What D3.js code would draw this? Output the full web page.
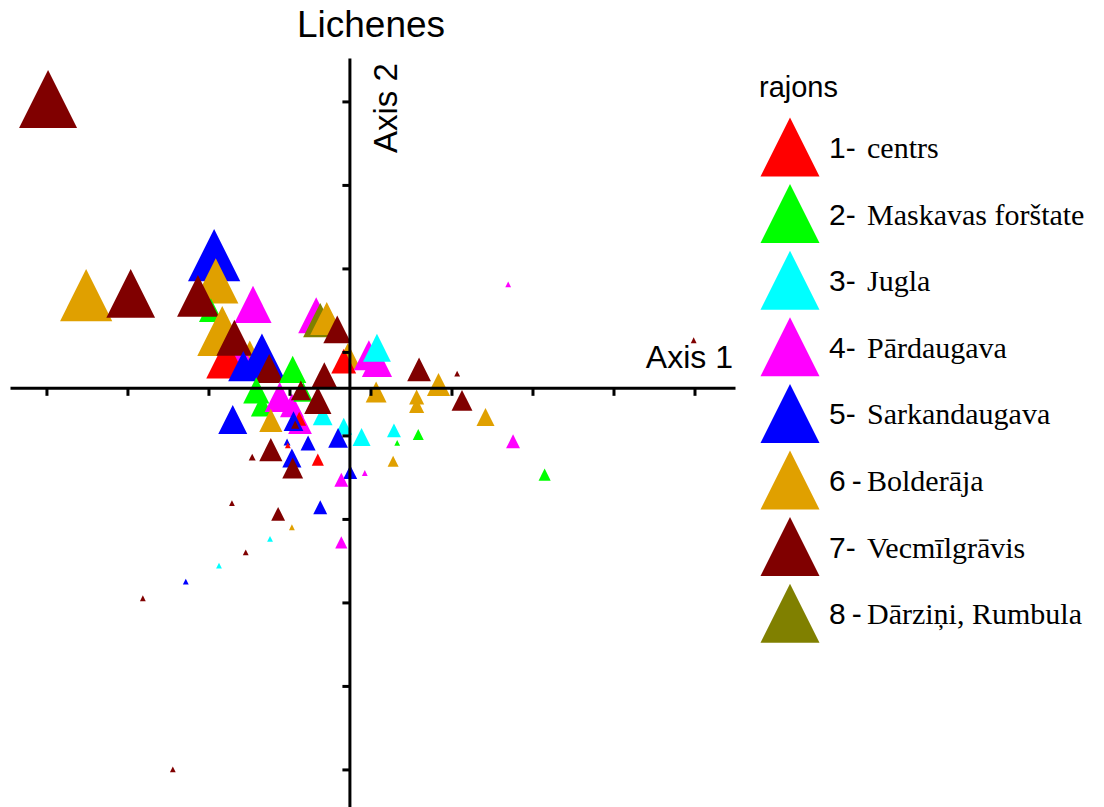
<!DOCTYPE html>
<html>
<head>
<meta charset="utf-8">
<script src="https://cdn.jsdelivr.net/npm/d3@7"></script>
<style>
    body { margin: 0; background: #fff; }
    svg { display: block; }
</style>
</head>
<body>
<div id="chart"></div>
<script>
// legend groups (rajons)
var groupNums = ["1-", "2-", "3-", "4-", "5-", "6\u2009-", "7-", "8\u2009-"];
var groupNames = ["centrs", "Maskavas forštate", "Jugla", "Pārdaugava", "Sarkandaugava",
    "Bolderāja", "Vecmīlgrāvis", "Dārziņi, Rumbula"];
var groupColors = ["#ff0000", "#00ff00", "#00ffff", "#ff00ff", "#0000ff", "#e0a000", "#800000", "#808000"];

var xTicks = [-3.74, -2.74, -1.74, -0.74, 0.26, 1.26, 2.26, 3.26, 4.26];
var yTicks = [3.43, 2.43, 1.43, 0.43, -0.57, -1.57, -2.57, -3.57, -4.57];

// [group, axis1, axis2, size]  (drawing order = back to front)
var samples = [
    [7, -3.72, 3.46, 100], [6, -3.25, 1.11, 90], [7, -2.70, 1.13, 84], [5, -1.67, 1.59, 90],
    [6, -1.65, 1.28, 78], [2, -1.71, 0.93, 41], [7, -1.87, 1.10, 72], [6, -1.57, 0.68, 86],
    [4, -1.19, 1.00, 64], [6, -1.23, 0.45, 34], [4, -1.35, 0.39, 52], [1, -1.52, 0.35, 69],
    [7, -1.42, 0.60, 62], [5, -1.31, 0.26, 52], [5, -1.08, 0.38, 78], [7, -0.99, 0.23, 50],
    [2, -0.70, 0.22, 47], [4, -0.41, 0.87, 62], [8, -0.36, 0.81, 59], [6, -0.28, 0.83, 57],
    [7, -0.15, 0.70, 48], [6, -0.02, 0.38, 45], [1, -0.07, 0.32, 43], [7, -0.31, 0.15, 45],
    [4, 0.24, 0.39, 52], [4, 0.34, 0.31, 52], [3, 0.34, 0.48, 48], [7, 0.86, 0.22, 41],
    [7, 1.33, 0.17, 10], [6, 1.10, 0.04, 40], [7, 1.39, -0.15, 36], [6, 1.68, -0.35, 31],
    [4, 2.02, -0.64, 24], [2, 2.41, -1.04, 21], [4, 1.96, 1.24, 10], [7, 4.25, 0.57, 10],
    [6, 0.33, -0.05, 36], [6, 0.83, -0.11, 26], [6, 0.83, -0.21, 26], [3, 0.55, -0.51, 24],
    [2, 0.85, -0.56, 19], [2, 0.59, -0.66, 10], [3, 0.15, -0.59, 31], [6, 0.54, -0.88, 19],
    [5, 0.01, -1.01, 24], [4, 0.19, -1.02, 10], [4, -0.10, -1.10, 24], [3, -0.07, -0.46, 29],
    [5, -0.14, -0.60, 34], [3, -0.33, -0.33, 34], [2, -1.15, -0.03, 45], [2, -1.08, -0.21, 38],
    [4, -0.86, -0.11, 52], [4, -0.71, -0.21, 41], [6, -0.97, -0.39, 40], [5, -1.44, -0.38, 50],
    [2, -0.57, -0.05, 34], [7, -0.60, -0.03, 34], [7, -0.39, -0.15, 47], [4, -0.61, -0.41, 41],
    [1, -0.62, -0.37, 24], [5, -0.69, -0.40, 34], [7, -0.67, -0.44, 14], [5, -0.51, -0.66, 26],
    [5, -0.77, -0.65, 12], [1, -0.76, -0.69, 10], [7, -0.97, -0.74, 40], [7, -1.20, -0.83, 12],
    [5, -0.71, -0.84, 33], [7, -0.70, -0.96, 36], [1, -0.39, -0.86, 21], [7, -1.45, -1.38, 10],
    [7, -0.88, -1.51, 24], [5, -0.36, -1.43, 24], [6, -0.71, -1.67, 10], [4, -0.10, -1.85, 21],
    [3, -0.98, -1.81, 10], [7, -1.28, -1.97, 10], [3, -1.61, -2.13, 10], [5, -2.02, -2.32, 10],
    [7, -2.55, -2.52, 10], [7, -2.18, -4.57, 10]
];

var width = 1104, height = 807;

var svg = d3.select("#chart").append("svg")
    .attr("width", width)
    .attr("height", height)
    .style("font-family", "Arial, 'Liberation Sans', sans-serif");

svg.append("rect").attr("width", width).attr("height", height).attr("fill", "#fff");

var x = d3.scaleLinear().domain([-4.19, 4.76]).range([10, 735]);
var y = d3.scaleLinear().domain([-5.02, 3.95]).range([807, 58]);
var size = d3.scaleLinear().domain([0, 100]).range([0, 58]);

function tri(cx, cy, w) {
    var h = w;
    return "M" + cx + "," + (cy - h / 2) + "L" + (cx + w / 2) + "," + (cy + h / 2) +
        "L" + (cx - w / 2) + "," + (cy + h / 2) + "Z";
}

// points
svg.append("g").selectAll("path")
    .data(samples)
    .enter().append("path")
    .attr("d", function (d) { return tri(x(d[1]), y(d[2]), size(d[3])); })
    .attr("fill", function (d) { return groupColors[d[0] - 1]; });

// axes through origin
var xAxis = svg.append("g")
    .attr("transform", "translate(0," + y(0) + ")")
    .call(d3.axisBottom(x).tickValues(xTicks).tickSize(8).tickSizeOuter(0).tickFormat(""));
var yAxis = svg.append("g")
    .attr("transform", "translate(" + x(0) + ",0)")
    .call(d3.axisLeft(y).tickValues(yTicks).tickSize(7).tickSizeOuter(0).tickFormat(""));

svg.selectAll(".domain").attr("stroke", "#000").attr("stroke-width", 3);
svg.selectAll(".tick line").attr("stroke", "#000").attr("stroke-width", 3);

// titles
svg.append("text")
    .attr("x", 371).attr("y", 37)
    .attr("text-anchor", "middle")
    .attr("font-size", 37)
    .text("Lichenes");

svg.append("text")
    .attr("transform", "translate(397,153) rotate(-90)")
    .attr("font-size", 33)
    .text("Axis 2");

svg.append("text")
    .attr("x", 733).attr("y", 368)
    .attr("text-anchor", "end")
    .attr("font-size", 32)
    .text("Axis 1");

// legend
svg.append("text")
    .attr("x", 759).attr("y", 97)
    .attr("font-size", 29)
    .text("rajons");

var leg = svg.append("g").selectAll("g")
    .data(groupNames)
    .enter().append("g")
    .attr("transform", function (d, i) { return "translate(790," + (147 + i * 66.6) + ")"; });

leg.append("path")
    .attr("d", tri(0, 0, 59))
    .attr("fill", function (d, i) { return groupColors[i]; });

leg.append("text")
    .attr("x", 39).attr("y", 11)
    .attr("font-size", 30)
    .text(function (d, i) { return groupNums[i]; });

leg.append("text")
    .attr("x", 77).attr("y", 11)
    .attr("font-size", 30)
    .attr("font-family", "'Times New Roman', 'Liberation Serif', serif")
    .text(function (d) { return d; });
</script>
</body>
</html>
